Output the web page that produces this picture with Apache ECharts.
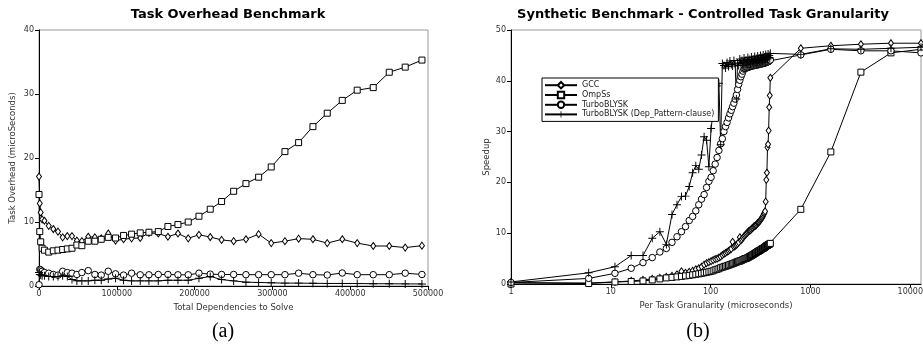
<!DOCTYPE html>
<html>
<head>
<meta charset="utf-8">
<script src="https://cdn.jsdelivr.net/npm/echarts@6/dist/echarts.min.js"></script>
<style>
  html, body { margin: 0; padding: 0; background: #fff; }
  #chart { width: 923px; height: 345px; }
</style>
</head>
<body>
<div id="chart"></div>
<script>
// (a) task overhead vs total dependencies
const depsX = [0, 1000, 2200, 4000, 7000, 12500, 18400, 24400, 30400, 36400,
  42400, 48700, 55100, 63300, 71800, 80000, 89000, 98400, 108700, 119000,
  130100, 141300, 153300, 165700, 178600, 191800, 205600, 220100, 234700, 250200,
  266000, 282300, 298500, 316100, 333700, 352100, 370500, 389800, 409000, 429600,
  450200, 470700, 492200];
const gccOverhead = [17.1, 12.9, 11.5, 10.4, 10.2, 9.4, 8.9, 8.5, 7.6, 7.8,
  7.8, 7.1, 7.0, 7.7, 7.6, 7.45, 8.2, 7.1, 7.3, 7.45,
  7.5, 8.3, 8.2, 7.7, 8.2, 7.45, 8.0, 7.65, 7.2, 7.0,
  7.3, 8.1, 6.7, 7.0, 7.4, 7.3, 6.7, 7.3, 6.7, 6.25,
  6.25, 6.0, 6.3];
const ompssOverhead = [14.3, 8.5, 6.9, 5.9, 5.6, 5.3, 5.5, 5.6, 5.7, 5.8,
  5.9, 6.4, 6.3, 7.0, 7.0, 7.3, 7.6, 7.5, 7.9, 8.1,
  8.3, 8.4, 8.5, 9.3, 9.6, 10.0, 10.9, 12.0, 13.2, 14.8,
  16.0, 17.0, 18.6, 21.0, 22.4, 24.9, 27.0, 29.0, 30.6, 31.0,
  33.4, 34.2, 35.3];
const turboOverhead = [0.2, 2.6, 2.5, 2.3, 2.1, 2.0, 1.8, 1.7, 2.3, 2.1,
  2.0, 1.8, 2.1, 2.4, 1.8, 1.7, 2.3, 1.9, 1.7, 2.0,
  1.75, 1.75, 1.8, 1.8, 1.75, 1.75, 2.0, 1.85, 1.8, 1.8,
  1.77, 1.77, 1.77, 1.77, 2.0, 1.77, 1.72, 2.03, 1.77, 1.77,
  1.77, 2.0, 1.8];
const depOverhead = [2.1, 1.8, 1.7, 1.6, 1.6, 1.5, 1.5, 1.5, 1.6, 1.5,
  1.0, 0.8, 0.8, 0.8, 0.9, 0.9, 1.1, 1.2, 0.9, 0.8,
  0.8, 0.8, 0.8, 0.9, 0.9, 0.9, 1.2, 1.5, 1.0, 0.8,
  0.6, 0.55, 0.5, 0.45, 0.45, 0.42, 0.4, 0.4, 0.38, 0.36,
  0.35, 0.33, 0.32];

// (b) speedup vs per task granularity
const granX = [1, 6, 11, 16, 21, 26, 31, 36, 41, 46,
  51, 56, 61, 66, 71, 76, 81, 86, 91, 96,
  101, 106, 111, 116, 121, 126, 131, 136, 141, 146,
  151, 156, 161, 166, 171, 176, 181, 186, 191, 196,
  201, 206, 211, 216, 221, 226, 231, 236, 241, 246,
  251, 256, 261, 266, 271, 276, 281, 286, 291, 296,
  301, 306, 311, 316, 321, 326, 331, 336, 341, 346,
  351, 356, 361, 366, 371, 376, 381, 386, 391, 396,
  800, 1600, 3200, 6400, 12800];
const gccSpeedup = [0.3, 0.2, 0.4, 0.6, 0.8, 1.0, 1.2, 1.4, 1.6, 1.9,
  2.5, 2.2, 2.4, 2.6, 2.9, 3.1, 3.4, 3.8, 4.1, 4.3,
  4.5, 4.7, 4.9, 5.0, 5.2, 5.4, 5.7, 5.9, 6.1, 6.3,
  6.5, 6.7, 6.9, 8.3, 7.3, 7.5, 7.7, 7.9, 8.2, 9.2,
  8.6, 8.8, 9.1, 9.4, 9.6, 9.8, 10.0, 10.2, 10.4, 10.5,
  10.6, 10.8, 11.0, 11.1, 11.3, 11.4, 11.5, 11.6, 11.8, 12.0,
  12.1, 12.2, 12.4, 12.6, 12.8, 13.0, 13.2, 13.5, 13.8, 14.0,
  14.3, 16.2, 20.5, 21.9, 26.9, 27.5, 30.2, 34.8, 37.1, 40.6,
  46.4, 46.9, 47.2, 47.4, 47.4];
const ompssSpeedup = [0.0, 0.1, 0.4, 0.5, 0.6, 0.8, 1.0, 1.2, 1.3, 1.4,
  1.5, 1.6, 1.7, 1.8, 1.9, 2.0, 2.1, 2.2, 2.3, 2.4,
  2.5, 2.6, 2.8, 2.9, 3.0, 3.2, 3.3, 3.4, 3.5, 3.6,
  3.7, 3.8, 3.9, 4.0, 4.1, 4.2, 4.3, 4.4, 4.5, 4.5,
  4.6, 4.7, 4.8, 4.9, 5.0, 5.0, 5.1, 5.2, 5.3, 5.4,
  5.5, 5.6, 5.7, 5.8, 5.9, 6.0, 6.1, 6.2, 6.3, 6.4,
  6.5, 6.5, 6.6, 6.7, 6.8, 6.9, 7.0, 7.0, 7.1, 7.2,
  7.3, 7.4, 7.5, 7.6, 7.6, 7.7, 7.8, 7.8, 7.9, 8.0,
  14.7, 26.0, 41.7, 45.5, 46.2];
const turboSpeedup = [0.3, 1.1, 2.1, 3.1, 4.2, 5.2, 6.3, 7.0, 8.2, 9.3,
  10.3, 11.3, 12.5, 13.3, 14.4, 15.6, 16.7, 17.6, 19.0, 20.2,
  21.0, 22.3, 23.6, 24.9, 26.3, 27.6, 28.6, 30.0, 31.0, 31.8,
  32.7, 33.5, 34.2, 34.9, 35.6, 36.4, 37.2, 38.3, 39.3, 40.1,
  40.8, 41.3, 41.9, 42.3, 42.4, 42.5, 42.6, 42.6, 42.7, 42.8,
  42.8, 42.9, 42.9, 43.0, 43.0, 43.0, 43.1, 43.1, 43.1, 43.2,
  43.2, 43.2, 43.3, 43.3, 43.3, 43.4, 43.4, 43.4, 43.5, 43.5,
  43.5, 43.6, 43.6, 43.7, 43.7, 43.8, 43.8, 43.9, 44.0, 44.1,
  45.1, 46.2, 45.9, 45.9, 45.5];
const depSpeedup = [0.4, 2.2, 3.4, 5.6, 5.6, 9.0, 10.3, 7.8, 13.7, 15.6,
  17.2, 17.3, 19.2, 21.9, 23.3, 22.6, 25.4, 29.0, 28.3, 23.1,
  30.6, 33.9, 37.2, 39.0, 39.5, 27.4, 43.4, 43.0, 42.5, 43.6,
  42.8, 43.9, 43.2, 42.9, 44.0, 43.3, 36.4, 43.5, 43.0, 44.3,
  43.4, 44.0, 43.1, 44.5, 43.6, 44.1, 43.3, 44.6, 43.8, 44.2,
  43.5, 44.7, 43.9, 44.3, 43.6, 44.8, 44.0, 44.4, 43.7, 44.9,
  44.1, 44.5, 43.9, 45.0, 44.2, 44.6, 44.0, 45.1, 44.3, 44.7,
  44.2, 45.2, 44.5, 44.8, 44.3, 45.3, 44.6, 45.0, 44.5, 45.4,
  45.2, 46.3, 46.2, 46.4, 46.6];

const names = ['GCC', 'OmpSs', 'TurboBLYSK', 'TurboBLYSK (Dep_Pattern-clause)'];
const symbols = ['diamond', 'rect', 'circle', 'path://M4.4,0H5.6V4.4H10V5.6H5.6V10H4.4V5.6H0V4.4H4.4Z'];
const sizes = [[5, 7], 6, 6.5, 8];
const FONT = 'DejaVu Sans';

function pairs(xs, ys) {
  return xs.map((x, i) => [x, ys[i]]);
}

function lineSeries(k, axis, xs, ys) {
  const plus = k === 3;
  return {
    name: names[k],
    type: 'line',
    xAxisIndex: axis,
    yAxisIndex: axis,
    data: pairs(xs, ys),
    symbol: symbols[k],
    symbolSize: sizes[k],
    showAllSymbol: true,
    animation: false,
    lineStyle: { color: '#000', width: 1 },
    itemStyle: plus
      ? { color: '#000', borderWidth: 0 }
      : { color: '#fff', borderColor: '#000', borderWidth: 1 },
    emphasis: { disabled: true }
  };
}

function axisBase() {
  return {
    axisLine: { show: true, lineStyle: { color: '#000', width: 1 } },
    axisTick: { show: true, length: 4, lineStyle: { color: '#000' } },
    axisLabel: { fontSize: 8, color: '#333', fontFamily: FONT, margin: 5 },
    splitLine: { show: false },
    nameTextStyle: { fontSize: 8.5, color: '#333', fontFamily: FONT }
  };
}

const isPow10 = v => {
  const l = Math.log10(v);
  return Math.abs(l - Math.round(l)) < 1e-6;
};

const chart = echarts.init(document.getElementById('chart'));
chart.setOption({
  animation: false,
  grid: [
    { left: 39, top: 30, width: 389, height: 256, show: true, borderColor: '#999', borderWidth: 1, outerBoundsMode: 'none' },
    { left: 511, top: 30, width: 410, height: 254, show: true, borderColor: '#999', borderWidth: 1, outerBoundsMode: 'none' }
  ],
  xAxis: [
    Object.assign(axisBase(), {
      gridIndex: 0, type: 'value', min: 0, max: 500000, interval: 100000,
      name: 'Total Dependencies to Solve', nameLocation: 'middle', nameGap: 14,
      axisLabel: { fontSize: 8, color: '#333', fontFamily: FONT, margin: 4, formatter: v => String(v) }
    }),
    Object.assign(axisBase(), {
      gridIndex: 1, type: 'log', logBase: 10, min: 1, max: 12800,
      name: 'Per Task Granularity (microseconds)', nameLocation: 'middle', nameGap: 15,
      axisLabel: { fontSize: 8, color: '#333', fontFamily: FONT, margin: 4, showMaxLabel: false,
        formatter: v => isPow10(v) ? String(Math.round(v)) : '' },
      minorTick: { show: false }
    })
  ],
  yAxis: [
    Object.assign(axisBase(), {
      gridIndex: 0, type: 'value', min: 0, max: 40, interval: 10,
      name: 'Task Overhead (microSeconds)', nameLocation: 'middle', nameGap: 22, nameRotate: 90
    }),
    Object.assign(axisBase(), {
      gridIndex: 1, type: 'value', min: 0, max: 50, interval: 10,
      name: 'Speedup', nameLocation: 'middle', nameGap: 20, nameRotate: 90
    })
  ],
  legend: {
    orient: 'vertical',
    left: 542, top: 78,
    data: names,
    itemWidth: 32, itemHeight: 8, itemGap: 1.4,
    padding: [3, 4, 3, 2],
    borderColor: '#000', borderWidth: 1, borderRadius: 0,
    backgroundColor: '#fff',
    selectedMode: false,
    textStyle: { fontSize: 8, color: '#222', fontFamily: FONT }
  },
  graphic: [
    { type: 'text', x: 228, y: 15, style: { text: 'Task Overhead Benchmark', font: 'bold 13px "DejaVu Sans"', fill: '#000', align: 'center', verticalAlign: 'middle' } },
    { type: 'text', x: 703, y: 15, style: { text: 'Synthetic Benchmark - Controlled Task Granularity', font: 'bold 13px "DejaVu Sans"', fill: '#000', align: 'center', verticalAlign: 'middle' } },
    { type: 'text', x: 223, y: 332, style: { text: '(a)', font: '20px "Liberation Serif"', fill: '#000', align: 'center', verticalAlign: 'middle' } },
    { type: 'text', x: 698, y: 332, style: { text: '(b)', font: '20px "Liberation Serif"', fill: '#000', align: 'center', verticalAlign: 'middle' } }
  ],
  series: [
    lineSeries(0, 0, depsX, gccOverhead),
    lineSeries(1, 0, depsX, ompssOverhead),
    lineSeries(2, 0, depsX, turboOverhead),
    lineSeries(3, 0, depsX, depOverhead),
    lineSeries(0, 1, granX, gccSpeedup),
    lineSeries(1, 1, granX, ompssSpeedup),
    lineSeries(2, 1, granX, turboSpeedup),
    lineSeries(3, 1, granX, depSpeedup)
  ]
});
</script>
</body>
</html>
